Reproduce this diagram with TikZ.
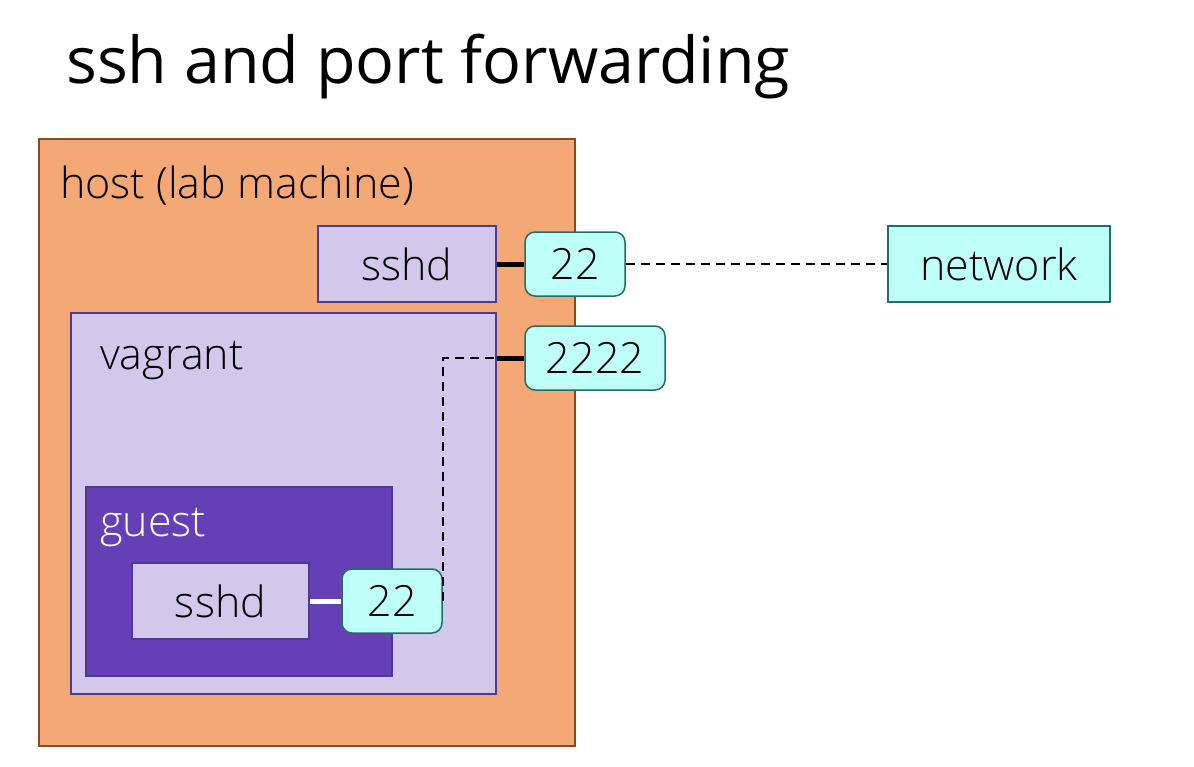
\documentclass[tikz,border=0pt]{standalone}
\usepackage{fontspec}
\setmainfont{Open Sans}
\newfontfamily\lightfont{Open Sans Light}
\definecolor{hostfill}{HTML}{F4A875}
\definecolor{hostline}{HTML}{8B4A1C}
\definecolor{lavfill}{HTML}{D3C8EB}
\definecolor{lavline}{HTML}{4A3A90}
\definecolor{guestfill}{HTML}{643FB6}
\definecolor{portfill}{HTML}{BFFFF9}
\definecolor{portline}{HTML}{1F6F66}
\tikzset{
  hostbox/.style={draw=hostline, fill=hostfill, line width=1.5pt, minimum width=536pt, minimum height=607pt},
  lavbox/.style={draw=lavline, fill=lavfill, line width=1.5pt, inner sep=0pt},
  guestbox/.style={draw=lavline, fill=guestfill, line width=1.5pt, minimum width=306pt, minimum height=189pt},
  port/.style={draw=portline, fill=portfill, line width=1.5pt, rounded corners=10pt, minimum height=64pt, inner sep=0pt},
  boxlabel/.style={anchor=base west, inner sep=0pt},
  link/.style={line width=5pt},
  tunnel/.style={line width=2.4pt, dash pattern=on 9pt off 6pt}
}
\begin{document}
\begin{tikzpicture}[x=1pt, y=-1pt, font=\lightfont\fontsize{43}{43}\selectfont]
    \useasboundingbox (0,0) rectangle (1194,766);

    % 1. Title
    \node[anchor=base west, inner sep=0pt, font=\fontsize{64.6}{65}\selectfont] (title) at (66,83) {ssh and port forwarding};

    % 2. The nested boxes
    \node[hostbox] (host) at (307,442.5) {};
    \node[boxlabel] (hostlbl) at (60,198) {host (lab machine)};

    \node[lavbox, minimum width=178pt, minimum height=76pt] (hsshd) at (407,264) {sshd};

    \node[lavbox, minimum width=425pt, minimum height=381pt] (vagrant) at (283.5,503.5) {};
    \node[boxlabel] (vagrantlbl) at (100,369) {vagrant};

    \node[guestbox] (guest) at (239,581.5) {};
    \node[boxlabel, text=white] (guestlbl) at (100,536) {guest};

    \node[lavbox, minimum width=177pt, minimum height=76pt] (gsshd) at (220.5,601) {sshd};

    % 3. Ports and the network
    \node[port, minimum width=100pt] (hport) at (575,264) {22};
    \node[port, minimum width=140pt] (vport) at (595,358) {2222};
    \node[port, minimum width=100pt] (gport) at (392,601) {22};
    \node[port, rounded corners=0pt, minimum width=222pt, minimum height=76pt] (net) at (999,264) {network};

    % 4. Connections
    \draw[link] (hsshd.east) -- (hport.west);
    \draw[tunnel] (hport.east) -- (net.west);

    \draw[link, white] (gsshd.east) -- (gport.west);
    \coordinate (fwd) at (vagrant.east |- vport.west);
    \draw[tunnel] (gport.east) |- (fwd);
    \draw[link] (fwd) -- (vport.west);

\end{tikzpicture}
\end{document}
